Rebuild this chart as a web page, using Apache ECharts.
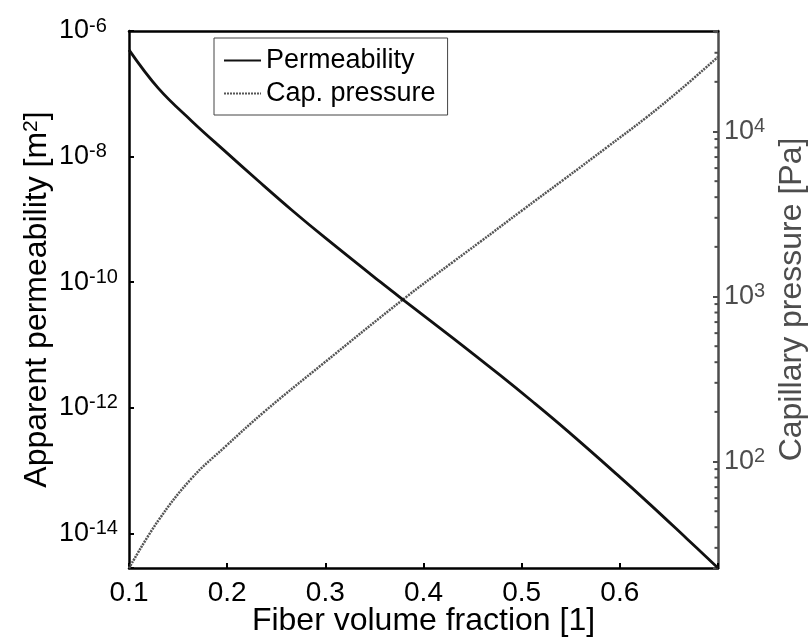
<!DOCTYPE html>
<html>
<head>
<meta charset="utf-8">
<script src="https://cdn.jsdelivr.net/npm/echarts@6/dist/echarts.min.js"></script>
<style>
html,body{margin:0;padding:0;background:#fff;}
#chart{width:812px;height:639px;}
</style>
</head>
<body>
<div id="chart"></div>
<script>
// ---- data (log-scaled axes) ----
const fiberFractionPerm = [0.100, 0.130, 0.164, 0.198, 0.231, 0.266, 0.300, 0.356, 0.381, 0.430, 0.478, 0.511, 0.546, 0.597, 0.631, 0.668, 0.700];
const permeability = [5.01e-7, 1.22e-7, 3.67e-8, 1.21e-8, 4.20e-9, 1.40e-9, 5.07e-10, 1.01e-10, 5.01e-11, 1.29e-11, 3.31e-12, 1.26e-12, 4.37e-13, 8.71e-14, 2.88e-14, 8.32e-15, 2.82e-15];

const fiberFractionCap = [0.100, 0.1295, 0.164, 0.198, 0.2385, 0.297, 0.381, 0.430, 0.4575, 0.500, 0.542, 0.587, 0.627, 0.661, 0.700];
const capPressure = [22.6, 43.6, 79.4, 123, 202, 389, 979, 1620, 2140, 3311, 5070, 8035, 12160, 17780, 28310];

const xTickLabels = ['0.1', '0.2', '0.3', '0.4', '0.5', '0.6'];
const leftExponents = [-14, -12, -10, -8, -6];
const rightExponents = [2, 3, 4];
const seriesNames = ['Permeability', 'Cap. pressure'];

// axis ranges (decades)
const xMin = 0.1, xMax = 0.7;
const leftMinExp = -14.55, leftMaxExp = -6;
const rightMinExp = 1.355, rightMaxExp = 4.609;

const FONT = '"Liberation Sans", Arial, Helvetica, sans-serif';
const GRAY = '#4d4d4d';

const permData = fiberFractionPerm.map((x, i) => [x, Math.log10(permeability[i])]);
const capData = fiberFractionCap.map((x, i) => [x, Math.log10(capPressure[i])]);

// minor ticks of the right (log) axis: k * 10^n
const minorTicks = [];
for (let n = 1; n <= 4; n++) {
  for (let k = 2; k <= 9; k++) {
    const v = Math.log10(k * Math.pow(10, n));
    if (v > rightMinExp + 0.01 && v < rightMaxExp - 0.005) minorTicks.push([xMax, v]);
  }
}

function expLabel(list) {
  return function (v) {
    const r = Math.round(v);
    if (Math.abs(v - r) > 1e-6 || list.indexOf(r) < 0) return '';
    return '{b|10}{s|' + r + '}';
  };
}

const chart = echarts.init(document.getElementById('chart'), null, {renderer: 'canvas'});

const option = {
  animation: false,
  backgroundColor: '#fff',
  textStyle: {fontFamily: FONT},
  grid: {left: 129, right: 94, top: 31, bottom: 71, containLabel: false, outerBoundsMode: 'none'},
  legend: {
    data: seriesNames,
    orient: 'vertical',
    left: 214,
    top: 38,
    padding: [9, 12, 8, 9],
    itemGap: 6,
    itemWidth: 37,
    itemHeight: 14,
    backgroundColor: '#fff',
    borderColor: '#444',
    borderWidth: 1,
    borderRadius: 0,
    itemStyle: {opacity: 0, borderWidth: 0},
    textStyle: {fontFamily: FONT, fontSize: 27, color: '#000'}
  },
  xAxis: [
    {
      type: 'value',
      min: xMin,
      max: xMax,
      interval: 0.1,
      name: 'Fiber volume fraction [1]',
      nameLocation: 'middle',
      nameGap: 37,
      nameMoveOverlap: false,
      nameTextStyle: {fontFamily: FONT, fontSize: 32, color: '#000'},
      axisLine: {show: true, onZero: false, lineStyle: {color: '#000', width: 2.5}},
      axisTick: {show: true, inside: true, length: 5, lineStyle: {color: '#000', width: 2}},
      axisLabel: {
        margin: 11,
        fontFamily: FONT, fontSize: 28, color: '#000',
        formatter: function (v) {
          const s = v.toFixed(1);
          return xTickLabels.indexOf(s) >= 0 ? s : '';
        }
      },
      splitLine: {show: false}
    },
    {
      type: 'value',
      position: 'top',
      min: xMin,
      max: xMax,
      axisLine: {show: true, onZero: false, lineStyle: {color: '#000', width: 2.5}},
      axisTick: {show: false},
      axisLabel: {show: false},
      splitLine: {show: false}
    }
  ],
  yAxis: [
    {
      type: 'value',
      position: 'left',
      min: leftMinExp,
      max: leftMaxExp,
      splitNumber: 4,
      name: '{n|Apparent permeability [m}{s|2}{n|]}',
      nameLocation: 'middle',
      nameGap: 76,
      nameMoveOverlap: false,
      nameTextStyle: {
        fontFamily: FONT, color: '#000',
        rich: {
          n: {fontFamily: FONT, fontSize: 32, lineHeight: 32, color: '#000'},
          s: {fontFamily: FONT, fontSize: 21, lineHeight: 6, verticalAlign: 'top', color: '#000'}
        }
      },
      axisLine: {show: true, onZero: false, lineStyle: {color: '#000', width: 2.5}},
      axisTick: {show: true, inside: true, length: 5, lineStyle: {color: '#000', width: 2}},
      axisLabel: {
        margin: 70,
        align: 'left',
        formatter: expLabel(leftExponents),
        rich: {
          b: {fontFamily: FONT, fontSize: 27, lineHeight: 30, color: '#000'},
          s: {fontFamily: FONT, fontSize: 20, lineHeight: 6, verticalAlign: 'top', color: '#000'}
        }
      },
      splitLine: {show: false}
    },
    {
      type: 'value',
      position: 'right',
      min: rightMinExp,
      max: rightMaxExp,
      splitNumber: 3,
      name: 'Capillary pressure [Pa]',
      nameLocation: 'middle',
      nameGap: 58,
      nameMoveOverlap: false,
      nameTextStyle: {fontFamily: FONT, fontSize: 32, lineHeight: 32, color: GRAY},
      axisLine: {show: true, onZero: false, lineStyle: {color: GRAY, width: 2.5}},
      axisTick: {show: true, inside: true, length: 5, lineStyle: {color: GRAY, width: 2}},
      axisLabel: {
        margin: 6,
        formatter: expLabel(rightExponents),
        rich: {
          b: {fontFamily: FONT, fontSize: 27, lineHeight: 30, color: GRAY},
          s: {fontFamily: FONT, fontSize: 20, lineHeight: 6, verticalAlign: 'top', color: GRAY}
        }
      },
      splitLine: {show: false}
    }
  ],
  series: [
    {
      name: seriesNames[0],
      type: 'line',
      xAxisIndex: 0,
      yAxisIndex: 0,
      data: permData,
      symbol: 'none',
      showSymbol: false,
      smooth: 0.4,
      lineStyle: {color: '#111', width: 2.8, type: 'solid'},
      itemStyle: {color: '#111'},
      z: 3
    },
    {
      name: seriesNames[1],
      type: 'line',
      xAxisIndex: 0,
      yAxisIndex: 1,
      data: capData,
      symbol: 'none',
      showSymbol: false,
      smooth: 0.4,
      lineStyle: {color: '#555', width: 2.5, type: [2, 1]},
      itemStyle: {color: '#555'},
      z: 2
    },
    {
      name: 'rightMinorTicks',
      type: 'custom',
      xAxisIndex: 0,
      yAxisIndex: 1,
      silent: true,
      clip: false,
      z: 5,
      data: minorTicks,
      renderItem: function (params, api) {
        const p = api.coord([api.value(0), api.value(1)]);
        return {
          type: 'line',
          shape: {x1: p[0] - 3.5, y1: p[1], x2: p[0], y2: p[1]},
          style: {stroke: GRAY, lineWidth: 2}
        };
      }
    }
  ]
};

chart.setOption(option);
</script>
</body>
</html>
